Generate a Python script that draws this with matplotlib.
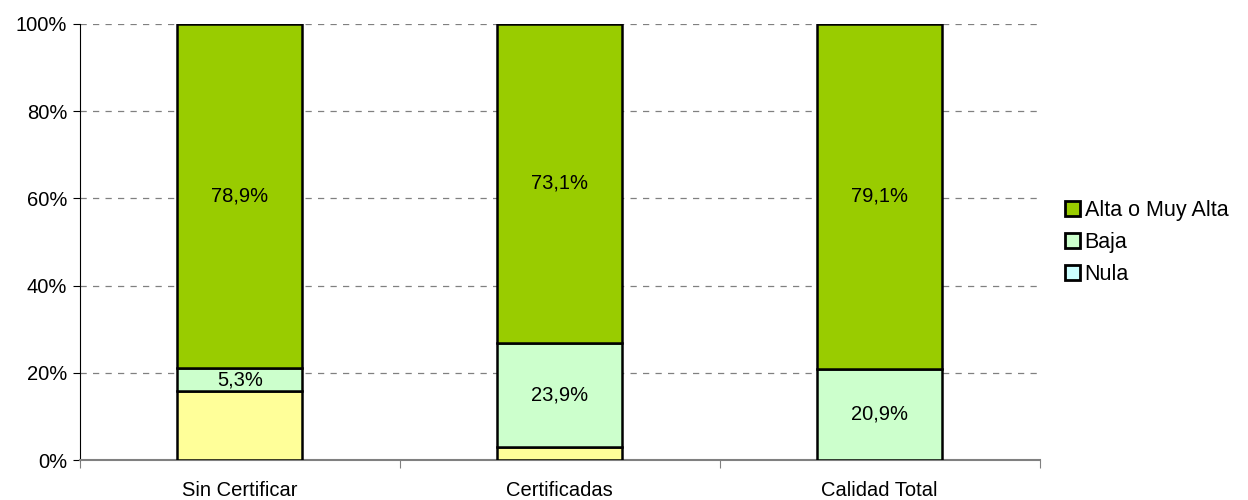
import matplotlib.pyplot as plt
from matplotlib.patches import Patch
from matplotlib.ticker import FixedLocator

plt.rcParams['font.family'] = ['Liberation Sans', 'DejaVu Sans']

categories = ['Sin Certificar', 'Certificadas', 'Calidad Total']
nula = [15.8, 3.0, 0.0]
baja = [5.3, 23.9, 20.9]
alta = [78.9, 73.1, 79.1]

c_alta = '#99CC00'
c_baja = '#CCFFCC'
c_nula = '#FFFF99'
c_nula_leg = '#CCFFFF'

fig = plt.figure(figsize=(12.48, 5), dpi=100)
ax = fig.add_axes([0.064, 0.08, 0.769, 0.872])

x = range(len(categories))
w = 0.39
ax.bar(x, nula, w, color=c_nula, edgecolor='black', linewidth=1.8, zorder=3)
ax.bar(x, baja, w, bottom=nula, color=c_baja, edgecolor='black', linewidth=1.8, zorder=3)
bot2 = [a + b for a, b in zip(nula, baja)]
ax.bar(x, alta, w, bottom=bot2, color=c_alta, edgecolor='black', linewidth=1.8, zorder=3)

fs = 14.5
for i in x:
    ax.text(i, nula[i] + baja[i] / 2, f'{baja[i]:.1f}%'.replace('.', ','),
            ha='center', va='center', fontsize=fs, zorder=4)
    ax.text(i, bot2[i] + alta[i] / 2, f'{alta[i]:.1f}%'.replace('.', ','),
            ha='center', va='center', fontsize=fs, zorder=4)

ax.set_xlim(-0.5, 2.5)
ax.set_ylim(0, 100)
ax.set_yticks(range(0, 101, 20))
ax.set_yticklabels([f'{v}%' for v in range(0, 101, 20)], fontsize=fs)
ax.yaxis.grid(True, linestyle=(0, (5, 5)), color='#808080', linewidth=0.9, zorder=0)
ax.xaxis.set_major_locator(FixedLocator([-0.5, 0.5, 1.5, 2.5]))
ax.xaxis.set_minor_locator(FixedLocator(list(x)))
ax.set_xticklabels([], minor=False)
ax.set_xticklabels(categories, minor=True, fontsize=fs)
ax.tick_params(axis='x', which='major', length=6, color='#808080')
ax.tick_params(axis='x', which='minor', length=0, pad=15)
ax.tick_params(axis='y', length=5, direction='out', pad=4)

for s in ['top', 'right']:
    ax.spines[s].set_visible(False)
ax.spines['left'].set_color('black')
ax.spines['bottom'].set_color('#808080')
ax.spines['bottom'].set_linewidth(1.5)

handles = [Patch(facecolor=c_alta, edgecolor='black', linewidth=2),
           Patch(facecolor=c_baja, edgecolor='black', linewidth=2),
           Patch(facecolor=c_nula_leg, edgecolor='black', linewidth=2)]
fig.legend(handles, ['Alta o Muy Alta', 'Baja', 'Nula'], loc='center left',
           bbox_to_anchor=(0.838, 0.515), frameon=False, fontsize=15.5,
           handlelength=0.7, handleheight=0.7, handletextpad=0.2, labelspacing=0.5)

fig.savefig('out.png', dpi=100)
